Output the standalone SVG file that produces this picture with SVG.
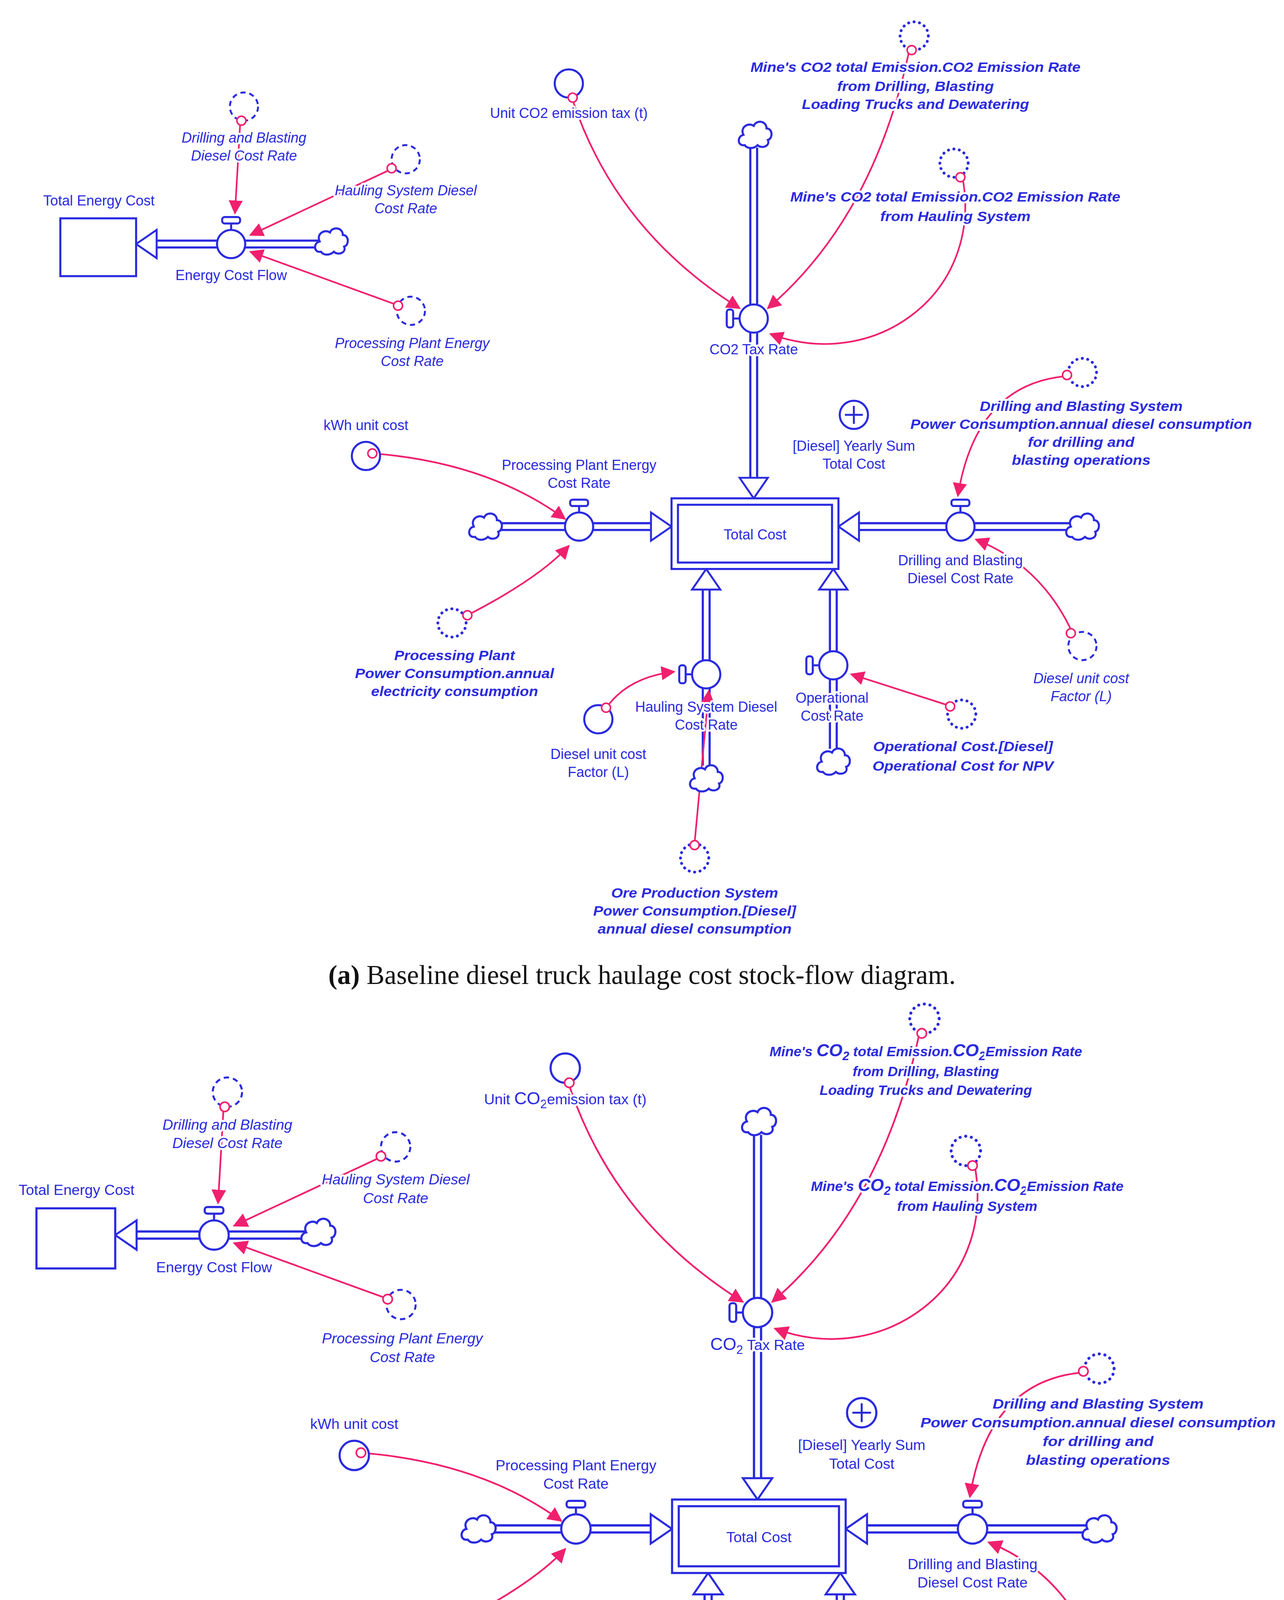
<svg xmlns="http://www.w3.org/2000/svg" width="3288" height="5145" viewBox="0 0 3288 5145">
<style>
.p{fill:none;stroke:#2a2ae0;stroke-width:7}
.pi{fill:none;stroke:#fff;stroke-width:3.6}
.ah{fill:#fff;stroke:#2a2ae0;stroke-width:1.5}
.b{fill:#fff;stroke:#2a2ae0;stroke-width:1.6}
.gd{fill:none;stroke:#2a2ae0;stroke-width:1.5;stroke-dasharray:4 3}
.gt{fill:none;stroke:#2a2ae0;stroke-width:2.2;stroke-dasharray:0.1 4.2;stroke-linecap:round}
.lk{fill:none;stroke:#f0206e;stroke-width:1.3;marker-end:url(#ar)}
.oc{fill:#fff;stroke:#f0206e;stroke-width:1.2}
text{font-family:"Liberation Sans",Arial,sans-serif;font-size:11px;fill:#2a2ae0;text-anchor:middle;stroke:#fff;stroke-width:3;paint-order:stroke;stroke-linejoin:round}
.i{font-style:italic}
.bi{font-style:italic;font-weight:bold;font-size:10.5px}
.cap{font-family:"Liberation Serif","Times New Roman",serif;font-size:21px;fill:#111;stroke:none}
</style>
<defs>
<marker id="ar" viewBox="0 0 10 10" refX="9" refY="5" markerUnits="userSpaceOnUse" markerWidth="11" markerHeight="11" orient="auto"><path d="M0,0 L10,5 L0,10 Z" fill="#f0206e"/></marker>
<path id="cloud" class="b" d="M-8,8 C-14,9 -14,1 -9,0 C-12,-6 -5,-10 -1,-7 C1,-12 9,-11 9,-5 C14,-5 14,3 10,4 C12,9 5,11 2,8 C-1,11 -6,11 -8,8 Z"/>
<g id="valve"><line x1="0" y1="-11" x2="0" y2="-17" class="b"/><rect x="-7" y="-21" width="14" height="5" rx="2" class="b"/><circle r="11" class="b"/></g>
<g id="panel">
<g id="connectors">
<path class="p" d="M248,190 H122"/><path class="pi" d="M248,190 H120"/><polygon class="ah" points="122,179 106,190 122,201"/>
<path class="p" d="M587,115 V372"/><path class="pi" d="M587,115 V374"/><polygon class="ah" points="576,372 587,388 598,372"/>
<path class="p" d="M388,410 H507"/><path class="pi" d="M388,410 H509"/><polygon class="ah" points="507,399 523,410 507,421"/>
<path class="p" d="M833,410 H669"/><path class="pi" d="M833,410 H667"/><polygon class="ah" points="669,399 653,410 669,421"/>
<path class="p" d="M550,596 V459"/><path class="pi" d="M550,596 V457"/><polygon class="ah" points="539,459 550,443 561,459"/>
<path class="p" d="M649,583 V459"/><path class="pi" d="M649,583 V457"/><polygon class="ah" points="638,459 649,443 660,459"/>
<path class="lk" d="M187,97 L183,166"/>
<path class="lk" d="M302,133 L195,183"/>
<path class="lk" d="M308,237 L195,196"/>
<path class="lk" d="M446,78 Q480,180 576,240"/>
<path class="lk" d="M708,40 Q680,170 598,240"/>
<path class="lk" d="M750,140 C765,230 680,290 600,260"/>
<path class="lk" d="M290,353 Q380,360 440,404"/>
<path class="lk" d="M366,478 Q420,450 443,425"/>
<path class="lk" d="M829,293 Q760,300 746,386"/>
<path class="lk" d="M834,490 Q810,440 760,420"/>
<path class="lk" d="M473,550 Q490,527 525,523"/>
<path class="lk" d="M541,656 L552,538"/>
<path class="lk" d="M738,549 L663,525"/>
</g>
<g id="totalEnergyCost"><rect x="47" y="170" width="59" height="45" class="b"/><text x="77" y="160">Total Energy Cost</text></g>
<g id="energyCostFlow"><use href="#valve" x="180" y="190"/><use href="#cloud" x="258" y="188"/><text x="180" y="218">Energy Cost Flow</text></g>
<g id="ghostDB1"><circle cx="190" cy="83" r="11" class="gd"/><circle cx="188" cy="94" r="3.5" class="oc"/><text class="i" x="190" y="111">Drilling and Blasting</text><text class="i" x="190" y="125">Diesel Cost Rate</text></g>
<g id="ghostHS1"><circle cx="316" cy="124" r="11" class="gd"/><circle cx="305" cy="131" r="3.5" class="oc"/><text class="i" x="316" y="152">Hauling System Diesel</text><text class="i" x="316" y="166">Cost Rate</text></g>
<g id="ghostPP1"><circle cx="320" cy="242" r="11" class="gd"/><circle cx="310" cy="238" r="3.5" class="oc"/><text class="i" x="321" y="271">Processing Plant Energy</text><text class="i" x="321" y="285">Cost Rate</text></g>
<g id="unitCO2"><circle cx="443" cy="65" r="11" class="b"/><circle cx="446" cy="76" r="3.5" class="oc"/></g>
<g id="co2Cloud"><use href="#cloud" x="588" y="105"/></g>
<g id="co2TaxRate"><use href="#valve" transform="translate(587,248) rotate(-90)"/></g>
<g id="ghostMine1"><circle cx="712" cy="28" r="11" class="gt"/><circle cx="710" cy="39" r="3.5" class="oc"/></g>
<g id="ghostMine2"><circle cx="743" cy="127" r="11" class="gt"/><circle cx="748" cy="138" r="3.5" class="oc"/></g>
<g id="yearlySum"><circle cx="665" cy="323" r="11" class="b"/><path d="M658,323 H672 M665,316 V330" stroke="#2a2ae0" stroke-width="1.5"/><text x="665" y="351">[Diesel] Yearly Sum</text><text x="665" y="365">Total Cost</text></g>
<g id="totalCost"><rect x="523" y="388" width="130" height="55" class="b"/><rect x="528" y="393" width="120" height="45" class="b"/><text x="588" y="420">Total Cost</text></g>
<g id="ppFlow"><use href="#cloud" x="378" y="410"/><use href="#valve" x="451" y="410"/><text x="451" y="366">Processing Plant Energy</text><text x="451" y="380">Cost Rate</text></g>
<g id="kwh"><circle cx="285" cy="355" r="11" class="b"/><circle cx="290" cy="353" r="3.5" class="oc"/><text x="285" y="335">kWh unit cost</text></g>
<g id="ghostPPP"><circle cx="352" cy="485" r="11" class="gt"/><circle cx="364" cy="479" r="3.5" class="oc"/><text class="bi" x="354" y="514" textLength="94" lengthAdjust="spacingAndGlyphs">Processing Plant</text><text class="bi" x="354" y="528" textLength="155" lengthAdjust="spacingAndGlyphs">Power Consumption.annual</text><text class="bi" x="354" y="542" textLength="130" lengthAdjust="spacingAndGlyphs">electricity consumption</text></g>
<g id="dbFlow"><use href="#cloud" x="843" y="410"/><use href="#valve" x="748" y="410"/><text x="748" y="440">Drilling and Blasting</text><text x="748" y="454">Diesel Cost Rate</text></g>
<g id="ghostDBS"><circle cx="843" cy="290" r="11" class="gt"/><circle cx="831" cy="292" r="3.5" class="oc"/><text class="bi" x="842" y="320" textLength="158" lengthAdjust="spacingAndGlyphs">Drilling and Blasting System</text><text class="bi" x="842" y="334" textLength="266" lengthAdjust="spacingAndGlyphs">Power Consumption.annual diesel consumption</text><text class="bi" x="842" y="348" textLength="83" lengthAdjust="spacingAndGlyphs">for drilling and</text><text class="bi" x="842" y="362" textLength="108" lengthAdjust="spacingAndGlyphs">blasting operations</text></g>
<g id="ghostDUC"><circle cx="843" cy="503" r="11" class="gd"/><circle cx="834" cy="493" r="3.5" class="oc"/><text class="i" x="842" y="532">Diesel unit cost</text><text class="i" x="842" y="546">Factor (L)</text></g>
<g id="hsFlow"><use href="#valve" transform="translate(550,525) rotate(-90)"/><use href="#cloud" x="550" y="606"/><text x="550" y="554">Hauling System Diesel</text><text x="550" y="568">Cost Rate</text></g>
<g id="duc2"><circle cx="466" cy="560" r="11" class="b"/><circle cx="472" cy="551" r="3.5" class="oc"/><text x="466" y="591">Diesel unit cost</text><text x="466" y="605">Factor (L)</text></g>
<g id="ghostOre"><circle cx="541" cy="668" r="11" class="gt"/><circle cx="541" cy="658" r="3.5" class="oc"/><text class="bi" x="541" y="699" textLength="130" lengthAdjust="spacingAndGlyphs">Ore Production System</text><text class="bi" x="541" y="713" textLength="158" lengthAdjust="spacingAndGlyphs">Power Consumption.[Diesel]</text><text class="bi" x="541" y="727" textLength="151" lengthAdjust="spacingAndGlyphs">annual diesel consumption</text></g>
<g id="opFlow"><use href="#valve" transform="translate(649,518) rotate(-90)"/><use href="#cloud" x="649" y="593"/><text x="648" y="547">Operational</text><text x="648" y="561">Cost Rate</text></g>
<g id="ghostOp"><circle cx="749" cy="556" r="11" class="gt"/><circle cx="740" cy="550" r="3.5" class="oc"/><text class="bi" x="750" y="585" textLength="140" lengthAdjust="spacingAndGlyphs">Operational Cost.[Diesel]</text><text class="bi" x="750" y="600" textLength="141" lengthAdjust="spacingAndGlyphs">Operational Cost for NPV</text></g>
</g>
</defs>
<rect width="3288" height="5145" fill="#fff"/>
<g transform="scale(3.288)">
<g id="panelA">
<use href="#panel"/>
<text x="443" y="92">Unit CO2 emission tax (t)</text>
<text x="587" y="276">CO2 Tax Rate</text>
<text class="bi" x="713" y="56" textLength="257" lengthAdjust="spacingAndGlyphs">Mine's CO2 total Emission.CO2 Emission Rate</text>
<text class="bi" x="713" y="71" textLength="122" lengthAdjust="spacingAndGlyphs">from Drilling, Blasting</text>
<text class="bi" x="713" y="85" textLength="177" lengthAdjust="spacingAndGlyphs">Loading Trucks and Dewatering</text>
<text class="bi" x="744" y="157" textLength="257" lengthAdjust="spacingAndGlyphs">Mine's CO2 total Emission.CO2 Emission Rate</text>
<text class="bi" x="744" y="172" textLength="117" lengthAdjust="spacingAndGlyphs">from Hauling System</text>
<text class="cap" x="500" y="766"><tspan font-weight="bold">(a)</tspan> Baseline diesel truck haulage cost stock-flow diagram.</text>
</g>
<g id="panelB">
<g transform="translate(-20.5,764) scale(1.04)">
<use href="#panel"/>
<text x="443" y="92">Unit <tspan font-size="13">CO<tspan font-size="9" dy="3">2</tspan></tspan><tspan dy="-3">emission tax (t)</tspan></text>
<text x="587" y="276"><tspan font-size="13">CO<tspan font-size="9" dy="3">2</tspan></tspan><tspan dy="-3"> Tax Rate</tspan></text>
<text class="bi" x="713" y="56">Mine's <tspan font-size="13">CO<tspan font-size="9" dy="3">2</tspan></tspan><tspan dy="-3"> total Emission.</tspan><tspan font-size="13">CO<tspan font-size="9" dy="3">2</tspan></tspan><tspan dy="-3">Emission Rate</tspan></text>
<text class="bi" x="713" y="71">from Drilling, Blasting</text>
<text class="bi" x="713" y="85">Loading Trucks and Dewatering</text>
<text class="bi" x="744" y="157">Mine's <tspan font-size="13">CO<tspan font-size="9" dy="3">2</tspan></tspan><tspan dy="-3"> total Emission.</tspan><tspan font-size="13">CO<tspan font-size="9" dy="3">2</tspan></tspan><tspan dy="-3">Emission Rate</tspan></text>
<text class="bi" x="744" y="172">from Hauling System</text>
</g>
<text class="cap" x="500" y="1551"><tspan font-weight="bold">(b)</tspan> Electrification overland conveyor haulage cost stock-flow diagram.</text>
</g>
</g>
</svg>
